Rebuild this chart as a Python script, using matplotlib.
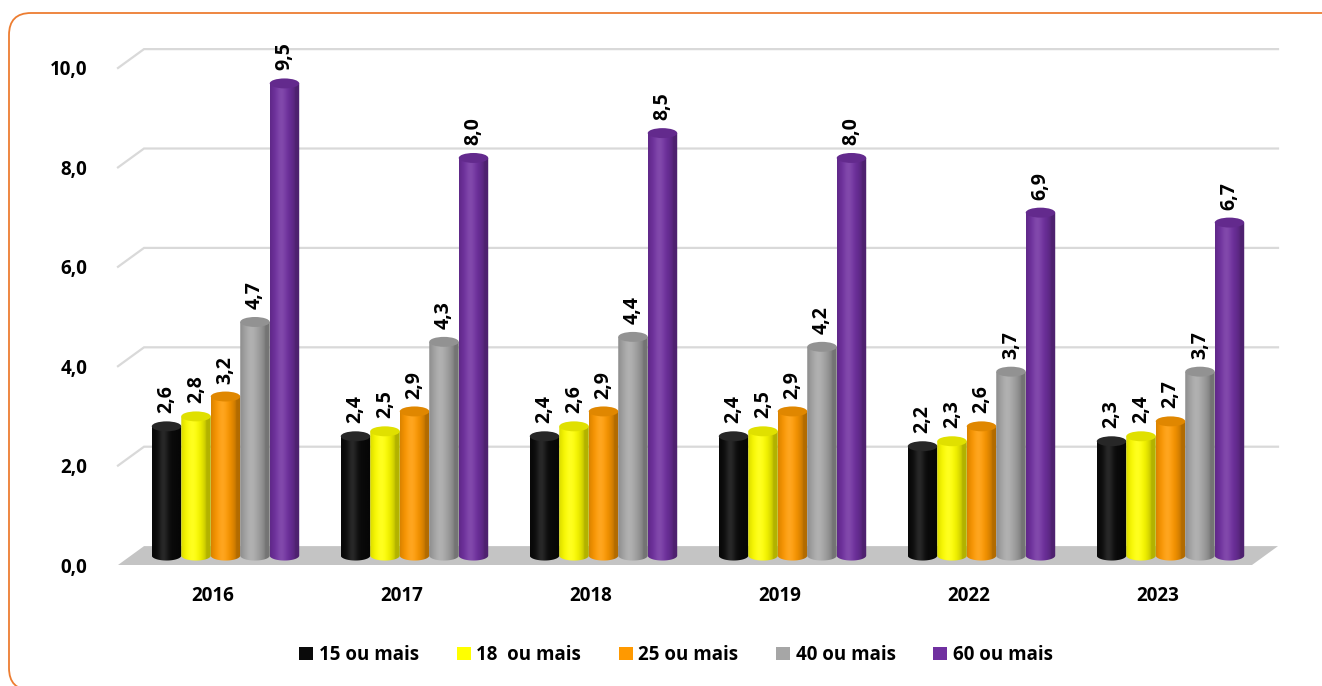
import numpy as np
import matplotlib
matplotlib.use("Agg")
import matplotlib.pyplot as plt
from matplotlib.patches import Ellipse, Polygon, Rectangle, FancyBboxPatch
from matplotlib.colors import to_rgb

plt.rcParams['font.family'] = ['Open Sans', 'DejaVu Sans']
plt.rcParams['font.weight'] = 'bold'

years = ['2016', '2017', '2018', '2019', '2022', '2023']
series = ['15 ou mais', '18  ou mais', '25 ou mais', '40 ou mais', '60 ou mais']
colors = ['#0a0a0a', '#ffff00', '#ff9900', '#a6a6a6', '#7030a0']
v15 = [2.6, 2.4, 2.4, 2.4, 2.2, 2.3]
v18 = [2.8, 2.5, 2.6, 2.5, 2.3, 2.4]
v25 = [3.2, 2.9, 2.9, 2.9, 2.6, 2.7]
v40 = [4.7, 4.3, 4.4, 4.2, 3.7, 3.7]
v60 = [9.5, 8.0, 8.5, 8.0, 6.9, 6.7]
values = [v15, v18, v25, v40, v60]
yticks = [0, 2, 4, 6, 8, 10]

W, H = 1322, 686
fig = plt.figure(figsize=(W / 100, H / 100), dpi=100)
fig.patch.set_facecolor('white')

# rounded orange frame (inches), running past the right and bottom edges
frame = FancyBboxPatch((0.09, -0.04), 13.42, 6.77, boxstyle='round,pad=0,rounding_size=0.22',
                       transform=fig.dpi_scale_trans, fill=False, edgecolor='#ed7d31',
                       linewidth=1.3)
fig.patches.append(frame)

ax = fig.add_axes([118 / W, (H - 565) / H, 1134 / W, 497 / H])
ax.set_xlim(-0.5, 5.5)
ax.set_ylim(0, 10)
for s in ax.spines.values():
    s.set_visible(False)
ax.patch.set_alpha(0)

# depth offset of the back wall (data units)
dx, dy = 0.1376, 0.38

# floor
ax.add_patch(Polygon([(-0.5, 0), (5.5, 0), (5.5 + dx, dy), (-0.5 + dx, dy)],
                     closed=True, facecolor='#c4c4c4', edgecolor='none', zorder=1, clip_on=False))

# gridlines on the back wall
for t in yticks[1:]:
    ax.plot([-0.5, -0.5 + dx, 5.5 + dx], [t, t + dy, t + dy], color='#d9d9d9',
            lw=1.6, zorder=0.5, clip_on=False, solid_joinstyle='miter')

ax.set_yticks(yticks)
ax.set_yticklabels([f'{t:.1f}'.replace('.', ',') for t in yticks], fontsize=13.5, fontweight='bold')
ax.set_xticks(range(len(years)))
ax.set_xticklabels(years, fontsize=13.5, fontweight='bold')
ax.tick_params(axis='y', length=0, pad=22)
ax.tick_params(axis='x', length=0, pad=15)


def shade(base, n=64):
    base = np.array(to_rgb(base))
    t = np.linspace(0, 1, n)
    s = np.cos(np.pi * (t - 0.38) * 1.05)
    s = np.clip(s, -1, 1)
    dark = 0.7 + 0.3 * np.clip(s, 0, 1) ** 0.6
    col = base[None, :] * dark[:, None]
    hl = 0.12 * np.clip(s, 0, 1) ** 6
    col = col + (1 - col) * hl[:, None]
    if base.sum() < 0.1:
        col = col + 0.07 * np.clip(s, 0, 1)[:, None] ** 2
    return np.clip(col, 0, 1)[None, :, :]


bw = 0.156
eh = 0.2
base_y = dy / 2
for i in range(len(years)):
    for j, (vals, c) in enumerate(zip(values, colors)):
        v = vals[i]
        xc = i + (j - 2) * bw + dx / 2
        x0, x1 = xc - bw / 2, xc + bw / 2
        top = base_y + v
        z = 3 + j * 0.1
        # body: rectangle plus lower half-ellipse
        th = np.linspace(np.pi, 2 * np.pi, 40)
        verts = [(x0, top)] + [(xc + bw / 2 * np.cos(a), base_y + eh / 2 * np.sin(a)) for a in th] + [(x1, top), (x0, top)]
        clip = Polygon(verts, closed=True, transform=ax.transData)
        im = ax.imshow(shade(c), extent=(x0, x1, base_y - eh / 2, top), aspect='auto',
                       interpolation='bilinear', zorder=z, clip_on=True)
        im.set_clip_path(clip)
        topc = np.array(to_rgb(c)) * 0.88 + (0.12 if c == '#0a0a0a' else 0.0)
        ax.add_patch(Ellipse((xc, top), bw, eh, facecolor=np.clip(topc, 0, 1),
                             edgecolor='none', zorder=z + 0.05, clip_on=False))
        ax.text(xc, top + eh / 2 + 0.16, f'{v:.1f}'.replace('.', ','), rotation=90,
                ha='center', va='bottom', fontsize=14, fontweight='bold', zorder=10)

ax.set_xlim(-0.5, 5.5)
ax.set_ylim(0, 10)

handles = [Rectangle((0, 0), 1, 1, facecolor=c, edgecolor='none') for c in colors]
fig.legend(handles, series, loc='center', bbox_to_anchor=(676 / W, (H - 655) / H), ncol=5,
           frameon=False, prop={'size': 13.5, 'weight': 'bold'}, handlelength=0.75, handleheight=0.75,
           handletextpad=0.3, columnspacing=2.0)

fig.savefig('out.png', dpi=100)
